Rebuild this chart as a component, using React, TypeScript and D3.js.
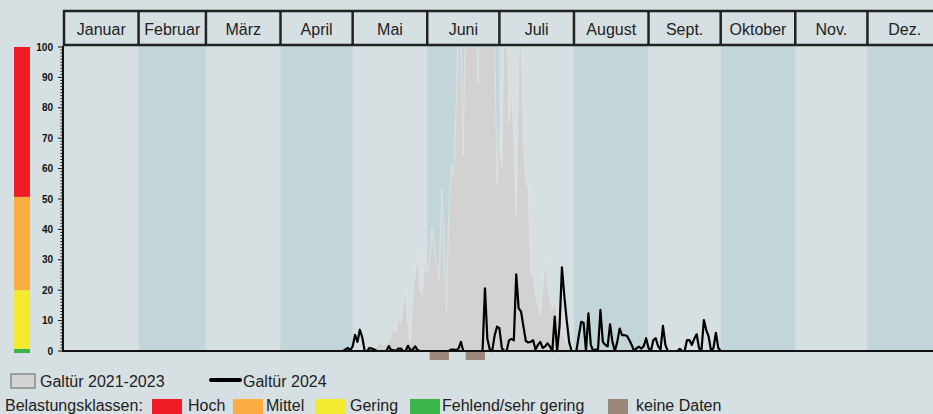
import React, { useEffect, useRef } from 'react';
import * as d3 from 'd3';

// months shown in the header strip
const months = ['Januar', 'Februar', 'März', 'April', 'Mai', 'Juni', 'Juli', 'August', 'Sept.', 'Oktober', 'Nov.', 'Dez.'];
const monthDays = [31, 28, 31, 30, 31, 30, 31, 31, 30, 31, 30, 31];

const yTicks = [0, 10, 20, 30, 40, 50, 60, 70, 80, 90, 100];

// Galtür 2021-2023 (daily, first value = day 128 of the year)
const histStart = 128;
const histValues = [
  0, 0.5, 1.5, 3, 2.5, 2, 2.5, 3, 6, 8,
  6, 11, 9.5, 15, 20.6, 8, 2.6, 19, 25, 32.7,
  20, 18, 32, 25.6, 30, 40.4, 33, 28, 23.4, 53.5,
  35, 12.4, 45, 61.7, 58, 80, 110, 105, 64, 120,
  130, 125, 140, 120, 88, 115, 135, 140, 130, 125,
  120, 105, 55, 70, 60.6, 110, 120, 75, 87, 70,
  44, 95, 110, 70, 55, 54, 25.6, 25.6, 19, 15,
  12, 20, 30.5, 22, 18, 14, 16.8, 12, 8, 6,
  4, 2.5, 1, 0.5, 0
];

// Galtür 2024 (daily, first value = day 115 of the year)
const curStart = 115;
const curValues = [
  0, 0, 0.5, 1, 0.3, 1.5, 5.3, 3, 7, 4.5,
  0, 0, 1, 0.8, 0.5, 0, 0, 0, 0, 0,
  1.6, 0.3, 0.3, 0, 0.8, 0.8, 0, 0, 1.7, 0.3,
  0.5, 1.5, 0.3, 0, 0, 0, 0, 0, 0, 0,
  0, 0, 0, 0, 0, 0, 0.5, 0.5, 0.3, 0.8,
  3, 0, 0, 0, 0, 0, 0, 0, 0, 0,
  20.6, 4, 0.5, 0, 5, 8, 7.5, 1, 0, 0,
  3.5, 4, 3.5, 25.2, 14, 13, 8, 3.3, 2.8, 3,
  3.6, 0.5, 2, 3, 1, 1.5, 2.5, 1.5, 0, 11.3,
  0, 8, 27.5, 18, 10, 3, 0, 0, 0, 5,
  9.6, 9.3, 0, 12.4, 2, 0, 0.5, 0.5, 13.5, 3,
  2, 1.5, 8.8, 3, 0, 3, 7.4, 5.2, 5.2, 5,
  3.6, 2, 0, 0.9, 1.4, 0.8, 1.6, 4.2, 1, 0,
  3.6, 4.2, 1.5, 0.5, 8.3, 2, 0, 0, 0, 0,
  0, 0.7, 0, 0, 3.6, 3.6, 2, 4, 5.5, 1,
  0, 10.2, 6.9, 4.7, 0, 1, 6, 1, 0
];

// days without data (start, end)
const noData = [[152, 160], [167, 175]];

// class bands of the colour bar
const bandFrom = [0, 0.7, 20, 50.7];
const bandTo = [0.7, 20, 50.7, 100];
const bandColors = ['#3bb44a', '#f3ea2f', '#fbad42', '#ee1c25'];

const legendClasses = ['Hoch', 'Mittel', 'Gering', 'Fehlend/sehr gering'];
const legendClassColors = ['#ee1c25', '#fbad42', '#f3ea2f', '#3bb44a'];

const FONT = '"Liberation Sans", Arial, sans-serif';

const App: React.FC = () => {
  const svgRef = useRef<SVGSVGElement>(null);

  useEffect(() => {
    if (!svgRef.current) return;
    const svg = d3.select(svgRef.current);
    svg.selectAll('*').remove();
    svg.style('font-family', FONT);

    const x = d3.scaleLinear().domain([0, 365]).range([64, 942]);
    const y = d3.scaleLinear().domain([0, 100]).range([351, 47]);

    const bounds = [0, ...d3.cumsum(monthDays)];

    /* month columns */
    svg.append('g')
      .selectAll('rect')
      .data(months)
      .join('rect')
      .attr('x', (d, i) => x(bounds[i]))
      .attr('width', (d, i) => x(bounds[i + 1]) - x(bounds[i]))
      .attr('y', 45)
      .attr('height', 351 - 45)
      .attr('fill', (d, i) => (i % 2 ? '#c2d6da' : '#d6dfe2'));

    /* historic area */
    svg.append('clipPath').attr('id', 'plotclip')
      .append('rect').attr('x', 64).attr('y', 47).attr('width', 880).attr('height', 304);

    const hist = histValues.map((v, i) => ({ day: histStart + i, v }));
    const area = d3.area<any>()
      .x(d => x(d.day))
      .y0(y(0))
      .y1(d => y(d.v));
    svg.append('path')
      .datum(hist)
      .attr('clip-path', 'url(#plotclip)')
      .attr('d', area)
      .attr('fill', '#d2d2d2')
      .attr('stroke', '#e2e4e5')
      .attr('stroke-width', 0.8);

    /* no-data markers */
    svg.append('g')
      .selectAll('rect')
      .data(noData)
      .join('rect')
      .attr('x', d => x(d[0]))
      .attr('width', d => x(d[1]) - x(d[0]))
      .attr('y', 352)
      .attr('height', 8)
      .attr('fill', '#9c877b');

    /* 2024 line */
    const cur = curValues.map((v, i) => ({ day: curStart + i, v }));
    const line = d3.line<any>()
      .x(d => x(d.day))
      .y(d => y(d.v));
    svg.append('path')
      .datum(cur)
      .attr('d', line)
      .attr('fill', 'none')
      .attr('stroke', '#000')
      .attr('stroke-width', 2.2)
      .attr('stroke-linejoin', 'round');

    /* x axis line */
    svg.append('line')
      .attr('x1', 62).attr('x2', 933)
      .attr('y1', 351).attr('y2', 351)
      .attr('stroke', '#111').attr('stroke-width', 2);

    /* y axis */
    const yAxis = svg.append('g');
    yAxis.append('line')
      .attr('x1', 63).attr('x2', 63)
      .attr('y1', 46).attr('y2', 352)
      .attr('stroke', '#111').attr('stroke-width', 2);
    yAxis.selectAll('line.minor')
      .data(d3.range(0, 101))
      .join('line')
      .attr('class', 'minor')
      .attr('x1', d => (d % 10 === 0 ? 58 : 60.5))
      .attr('x2', 63)
      .attr('y1', d => y(d))
      .attr('y2', d => y(d))
      .attr('stroke', '#111')
      .attr('stroke-width', 1);
    yAxis.selectAll('text')
      .data(yTicks)
      .join('text')
      .attr('x', 53)
      .attr('y', d => y(d))
      .attr('dy', '0.35em')
      .attr('text-anchor', 'end')
      .style('font-size', '10px')
      .style('font-weight', 'bold')
      .style('fill', '#111')
      .text(d => d);

    /* colour bar */
    svg.append('g')
      .selectAll('rect')
      .data(bandFrom)
      .join('rect')
      .attr('x', 14)
      .attr('width', 16)
      .attr('y', (d, i) => y(bandTo[i]))
      .attr('height', (d, i) => y(d) - y(bandTo[i]) + (i === 0 ? 2 : 0))
      .attr('fill', (d, i) => bandColors[i]);

    /* header */
    const head = svg.append('g');
    head.append('rect')
      .attr('x', x(0)).attr('y', 11)
      .attr('width', x(365) - x(0)).attr('height', 34)
      .attr('fill', '#d6dfe2')
      .attr('stroke', '#222').attr('stroke-width', 2.5);
    head.selectAll('line')
      .data(bounds.slice(1, 12))
      .join('line')
      .attr('x1', d => x(d)).attr('x2', d => x(d))
      .attr('y1', 11).attr('y2', 45)
      .attr('stroke', '#222').attr('stroke-width', 2.5);
    head.selectAll('text')
      .data(months)
      .join('text')
      .attr('x', (d, i) => (x(bounds[i]) + x(bounds[i + 1])) / 2)
      .attr('y', 29.5)
      .attr('dy', '0.35em')
      .attr('text-anchor', 'middle')
      .style('font-size', '16px')
      .style('fill', '#222')
      .text(d => d);

    /* legend */
    const leg = svg.append('g').style('font-size', '16px').style('fill', '#222');
    leg.append('rect')
      .attr('x', 11).attr('y', 374).attr('width', 24).attr('height', 14)
      .attr('fill', '#d4d4d4').attr('stroke', '#8a8a8a').attr('stroke-width', 1.5);
    leg.append('text').attr('x', 40).attr('y', 387).text('Galtür 2021-2023');
    leg.append('line')
      .attr('x1', 211).attr('x2', 240).attr('y1', 380).attr('y2', 380)
      .attr('stroke', '#000').attr('stroke-width', 4).attr('stroke-linecap', 'round');
    leg.append('text').attr('x', 243).attr('y', 387).text('Galtür 2024');

    leg.append('text').attr('x', 5).attr('y', 410.5).text('Belastungsklassen:');
    const boxX = [152, 233, 315, 410];
    const textX = [188, 266, 350, 442];
    legendClasses.forEach((c, i) => {
      leg.append('rect')
        .attr('x', boxX[i]).attr('y', 399).attr('width', 30).attr('height', 16)
        .attr('fill', legendClassColors[i]);
      leg.append('text').attr('x', textX[i]).attr('y', 410.5).text(c);
    });
    leg.append('rect')
      .attr('x', 608).attr('y', 399).attr('width', 20).attr('height', 16)
      .attr('fill', '#9c877b');
    leg.append('text').attr('x', 636).attr('y', 410.5).text('keine Daten');
  }, []);

  return (
    <svg
      ref={svgRef}
      width={933}
      height={414}
      style={{ position: 'absolute', left: 0, top: 0, background: '#d6dfe2' }}
    />
  );
};

export default App;
